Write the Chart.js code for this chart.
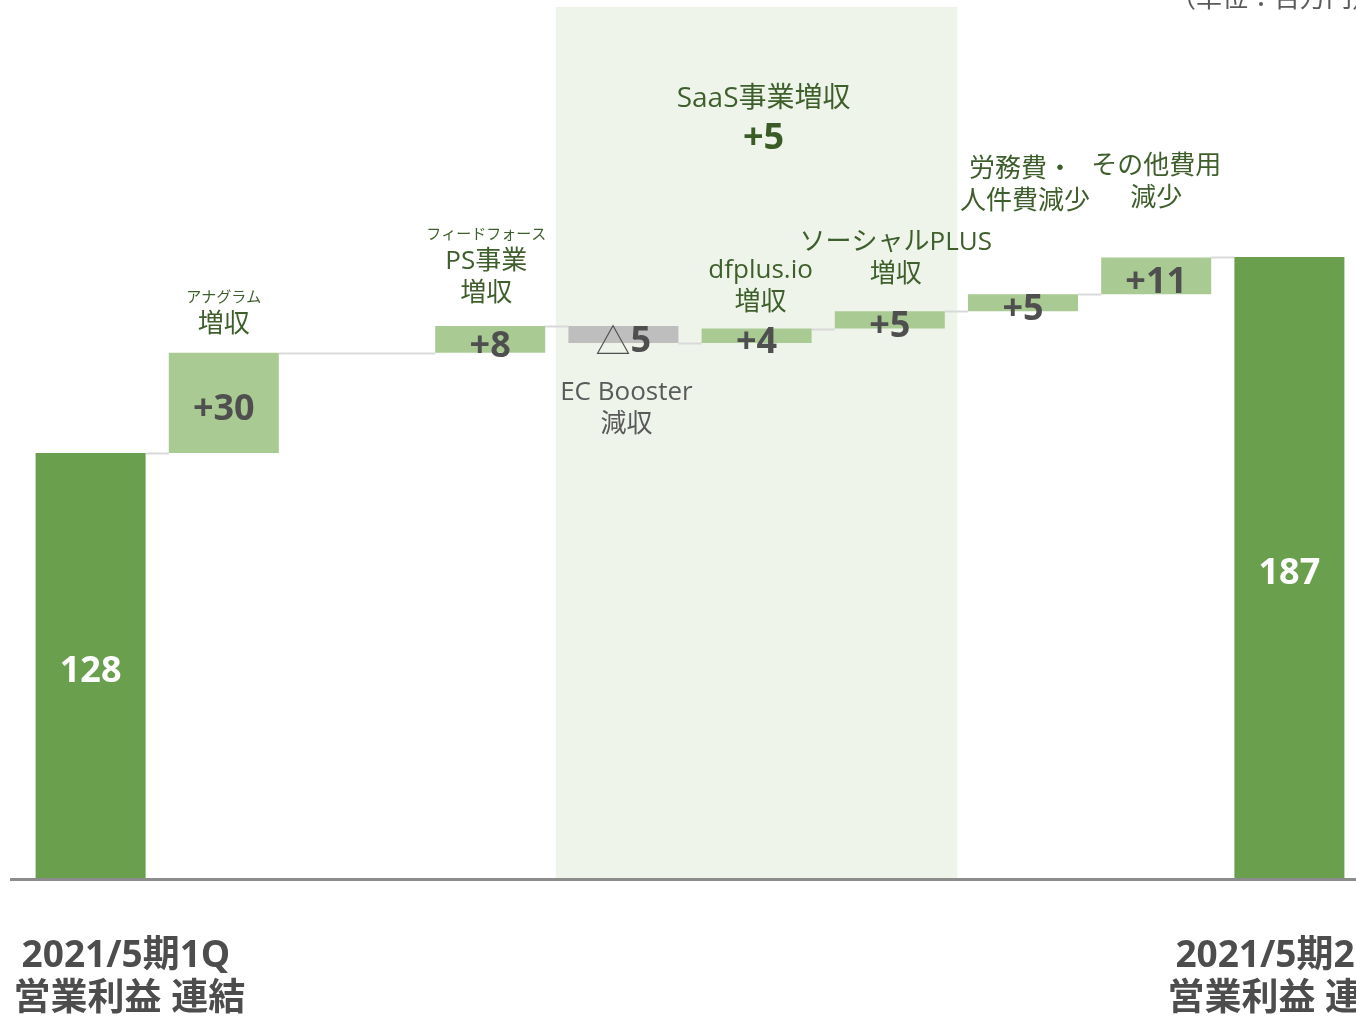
<!DOCTYPE html>
<html>
<head>
<meta charset="utf-8">
<script src="https://cdn.jsdelivr.net/npm/chart.js@4/dist/chart.umd.min.js"></script>
<style>
  html, body { margin: 0; padding: 0; background: #ffffff; }
  #wrap { width: 1356px; height: 1016px; position: relative; overflow: hidden; }
</style>
</head>
<body>
<div id="wrap"><canvas id="waterfall" width="1356" height="1016"></canvas></div>
<script>
// categories (index 2 is an empty slot in the original)
const categories = ['2021/5期1Q', 'アナグラム', '', 'フィードフォース', 'EC Booster', 'dfplus.io', 'ソーシャルPLUS', '労務費・人件費', 'その他費用', '2021/5期2Q'];
// steps: first and last are totals, the rest are changes
const steps = [128.1, 30.1, null, 8.1, -5.1, 4.3, 5.2, 5.1, 11.1, 187];
const kinds = ['total', 'up', null, 'up', 'down', 'up', 'up', 'up', 'up', 'total'];
const valueLabels = ['128', '+30', '', '+8', '△5', '+4', '+5', '+5', '+11', '187'];

const noteTexts = {
	1: ['アナグラム', '増収'],
	3: ['フィードフォース', 'PS事業', '増収'],
	4: ['EC Booster', '減収'],
	5: ['dfplus.io', '増収'],
	6: ['ソーシャルPLUS', '増収'],
	7: ['労務費・', '人件費減少'],
	8: ['その他費用', '減少']
};
const saasTitle = 'SaaS事業増収';
const saasValue = '+5';
const firstLabel = ['2021/5期1Q', '営業利益 連結'];
const lastLabel = ['2021/5期2Q', '営業利益 連結'];
const unitText = '（単位：百万円）';

// build floating ranges
const ranges = [];
let level = 0;
steps.forEach((s, i) => {
	if (s === null) { ranges.push(null); return; }
	if (kinds[i] === 'total') { ranges.push([0, s]); level = s; }
	else { ranges.push([level, level + s]); level = level + s; }
});

const DARK = '#6a9f4e';
const LIGHT = '#a9cb93';
const GRAY = '#bebebe';
const colors = kinds.map(k => k === 'total' ? DARK : (k === 'down' ? GRAY : LIGHT));

const FONT = '"Open Sans", "Noto Sans CJK JP", sans-serif';
const NOTE_GREEN = '#3e5f2c';
const VALUE_GRAY = '#4f4f4f';
const DY = 3; // Open Sans sits a bit high with 'middle'

const waterfallPlugin = {
	id: 'waterfallDecor',
	beforeDatasetsDraw(chart) {
		const ctx = chart.ctx;
		const x = chart.scales.x;
		const area = chart.chartArea;
		const step = x.getPixelForValue(1) - x.getPixelForValue(0);
		// SaaS shaded block behind categories 4..6
		ctx.save();
		ctx.fillStyle = '#eef4ea';
		const l = x.getPixelForValue(4) - step / 2;
		const r = x.getPixelForValue(6) + step / 2;
		ctx.fillRect(l - 1, area.top + 7, r - l + 2, area.bottom - area.top - 7);

		// connector lines
		const meta = chart.getDatasetMeta(0);
		const y = chart.scales.y;
		ctx.strokeStyle = '#d9d9d9';
		ctx.lineWidth = 2;
		for (let i = 0; i < ranges.length - 1; i++) {
			if (!ranges[i]) continue;
			let j = i + 1;
			while (j < ranges.length && !ranges[j]) j++;
			const a = meta.data[i], b = meta.data[j];
			const endLevel = ranges[i][1];
			const py = Math.round(y.getPixelForValue(endLevel)) + 0.5;
			ctx.beginPath();
			ctx.moveTo(a.x + a.width / 2, py);
			ctx.lineTo(b.x - b.width / 2, py);
			ctx.stroke();
		}
		ctx.restore();
	},
	afterDatasetsDraw(chart) {
		const ctx = chart.ctx;
		const area = chart.chartArea;
		const meta = chart.getDatasetMeta(0);
		const y = chart.scales.y;
		ctx.save();

		// baseline
		ctx.fillStyle = '#8c8c8c';
		ctx.fillRect(10, area.bottom - 1, chart.width - 10, 3);

		ctx.textAlign = 'center';
		ctx.textBaseline = 'middle';

		// value labels
		const valFont = 'bold 36px ' + FONT;
		valueLabels.forEach((txt, i) => {
			if (!txt) return;
			const bar = meta.data[i];
			const top = y.getPixelForValue(Math.max(...ranges[i]));
			const bottom = y.getPixelForValue(Math.min(...ranges[i]));
			const cy = (top + bottom) / 2 + (kinds[i] === 'total' ? 3 : 4) + DY;
			if (kinds[i] === 'total') {
				ctx.fillStyle = '#ffffff';
				ctx.font = valFont;
				ctx.fillText(txt, bar.x, cy);
			} else if (txt.startsWith('△')) {
				ctx.fillStyle = VALUE_GRAY;
				const triFont = '300 35px "Noto Sans CJK JP"';
				ctx.font = triFont;
				const tri = '△';
				const w1 = ctx.measureText(tri).width;
				ctx.font = valFont;
				const rest = txt.slice(1);
				const w2 = ctx.measureText(rest).width;
				const sx = bar.x - (w1 + w2) / 2;
				ctx.textAlign = 'left';
				ctx.font = triFont;
				ctx.fillText(tri, sx, cy - 1);
				ctx.font = valFont;
				ctx.fillText(rest, sx + w1, cy);
				ctx.textAlign = 'center';
			} else {
				ctx.fillStyle = VALUE_GRAY;
				ctx.font = valFont;
				ctx.fillText(txt, bar.x, cy);
			}
		});

		// notes above / below bars
		const big = '26px ' + FONT;
		const small = '15px ' + FONT;
		const notePlace = {
			1: { from: 'top', off: -31, dx: 0, first: small },
			3: { from: 'top', off: -35, dx: -4, first: small },
			4: { from: 'bottom', off: 79, dx: 3, color: '#5a5a5a' },
			5: { from: 'top', off: -29, dx: 4 },
			6: { from: 'top', off: -40, dx: 6 },
			7: { from: 'top', off: -96, dx: 1 },
			8: { from: 'top', off: -62, dx: 0 }
		};
		Object.keys(noteTexts).forEach(key => {
			const i = Number(key);
			const lines = noteTexts[i];
			const p = notePlace[i];
			const bar = meta.data[i];
			const top = y.getPixelForValue(Math.max(...ranges[i]));
			const bottom = y.getPixelForValue(Math.min(...ranges[i]));
			const edge = p.from === 'top' ? top : bottom;
			const lastY = edge + p.off + DY;
			ctx.fillStyle = p.color || NOTE_GREEN;
			for (let k = lines.length - 1, ly = lastY; k >= 0; k--) {
				const isSmall = p.first && k === 0;
				ctx.font = isSmall ? p.first : big;
				let dx = p.dx;
				if (i === 7) dx = k === 0 ? -2 : 2;
				ctx.fillText(lines[k], bar.x + dx, ly);
				ly -= (p.first && k - 1 === 0) ? 27 : 32;
			}
		});

		// SaaS block title
		const saasX = meta.data[5].x + 7;
		ctx.fillStyle = NOTE_GREEN;
		ctx.font = '28px ' + FONT;
		ctx.fillText(saasTitle, saasX, area.top + 96 + DY);
		ctx.fillStyle = '#3a5a26';
		ctx.font = 'bold 36px ' + FONT;
		ctx.fillText(saasValue, saasX, area.top + 136 + DY);

		// bottom category labels
		ctx.fillStyle = '#4d4d4d';
		ctx.textAlign = 'left';
		ctx.font = 'bold 37px ' + FONT;
		const b0 = meta.data[0], b9 = meta.data[ranges.length - 1];
		ctx.fillText(firstLabel[0], b0.x - b0.width / 2 - 14, area.bottom + 74 + DY);
		ctx.fillText(firstLabel[1], b0.x - b0.width / 2 - 22, area.bottom + 117 + DY);
		ctx.fillText(lastLabel[0], b9.x - b9.width / 2 - 59, area.bottom + 74 + DY);
		ctx.fillText(lastLabel[1], b9.x - b9.width / 2 - 67, area.bottom + 117 + DY);

		// unit text, clipped at top edge
		ctx.fillStyle = '#5a5a5a';
		ctx.font = '26px ' + FONT;
		ctx.textBaseline = 'alphabetic';
		ctx.fillText(unitText, 1170, 7);
		ctx.restore();
	}
};

const ctx = document.getElementById('waterfall').getContext('2d');
new Chart(ctx, {
	type: 'bar',
	data: {
		labels: categories,
		datasets: [{
			data: ranges,
			backgroundColor: colors,
			borderWidth: 0,
			barPercentage: 0.826,
			categoryPercentage: 1.0
		}]
	},
	options: {
		responsive: false,
		animation: false,
		layout: { padding: { left: 24, right: 0, top: 0, bottom: 137 } },
		plugins: {
			legend: { display: false },
			tooltip: { enabled: false }
		},
		scales: {
			x: { display: false },
			y: { display: false, min: 0, max: 264.3 }
		}
	},
	plugins: [waterfallPlugin]
});
</script>
</body>
</html>
